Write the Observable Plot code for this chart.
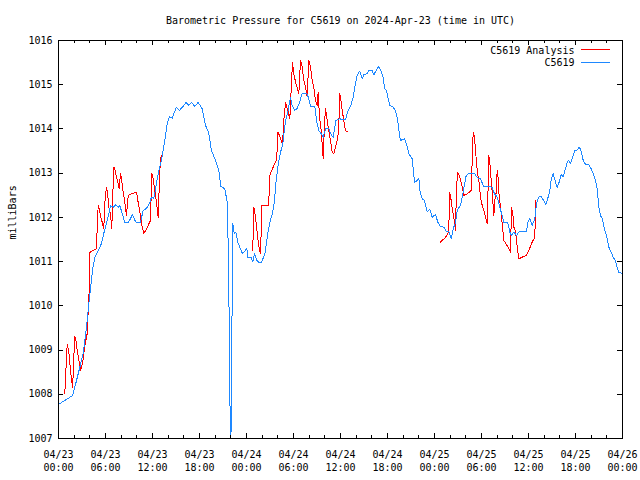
<!DOCTYPE html>
<html><head><meta charset="utf-8">
<script src="https://cdn.jsdelivr.net/npm/d3@7"></script>
<script src="https://cdn.jsdelivr.net/npm/@observablehq/plot@0.6"></script>
<style>body{margin:0;background:#fff} svg{display:block}</style>
</head><body><div id="chart"></div><script>
const chartTitle = "Barometric Pressure for C5619 on 2024-Apr-23 (time in UTC)";
const yLabel = "milliBars";
const seriesNames = ["C5619 Analysis", "C5619"];
const seriesColors = ["#ff0000", "#1e88ff"];

// x: hours since 2024-04-23 00:00 UTC
const xTickHours = [0, 6, 12, 18, 24, 30, 36, 42, 48, 54, 60, 66, 72];
const xTickDates = ["04/23","04/23","04/23","04/23","04/24","04/24","04/24","04/24","04/25","04/25","04/25","04/25","04/26"];
const xTickTimes = ["00:00","06:00","12:00","18:00","00:00","06:00","12:00","18:00","00:00","06:00","12:00","18:00","00:00"];
const xMinorHours = [2,4,8,10,14,16,20,22,26,28,32,34,38,40,44,46,50,52,56,58,62,64,68,70];
const yTicks = [1007, 1008, 1009, 1010, 1011, 1012, 1013, 1014, 1015, 1016];

// C5619 station readings [hour, mbar]
const stationReadings = [
[0,1007.77],[1.79,1007.97],[2.30,1008.31],[2.72,1008.61],[3.15,1008.92],[3.57,1009.51],[3.92,1010.12],[4.09,1010.41],
[4.34,1010.80],[4.63,1011.10],[5.07,1011.25],[5.49,1011.41],[5.78,1011.64],[6.13,1011.86],[6.47,1012.12],[6.64,1012.27],
[6.98,1012.23],[7.31,1012.29],[7.62,1012.23],[7.83,1012.27],[8.08,1012.12],[8.46,1011.89],[8.90,1011.89],[9.19,1011.97],
[9.45,1012.07],[9.74,1011.93],[9.96,1011.89],[10.47,1011.89],[10.81,1012.16],[11.23,1012.20],[11.66,1012.34],[11.87,1012.46],
[12.17,1012.43],[12.42,1012.68],[12.73,1012.99],[13.15,1013.29],[13.57,1013.74],[13.88,1014.12],[14.17,1014.28],[14.51,1014.24],
[15.03,1014.49],[15.45,1014.42],[16.00,1014.53],[16.30,1014.60],[16.63,1014.53],[16.98,1014.60],[17.40,1014.51],[17.83,1014.60],
[18.34,1014.46],[18.77,1014.08],[19.19,1013.90],[19.53,1013.51],[20.04,1013.29],[20.46,1013.06],[20.72,1012.70],[21.23,1012.65],
[21.54,1012.34],[21.61,1011.70],[21.66,1011.44],[21.79,1009.67],[21.87,1007.93],[22.00,1006.90],[22.12,1008.24],[22.17,1010.65],
[22.25,1011.86],[22.43,1011.64],[22.63,1011.67],[22.89,1011.44],[23.20,1011.30],[23.49,1011.18],[23.83,1011.24],[24.04,1011.30],
[24.17,1011.09],[24.60,1011.09],[24.80,1010.99],[25.02,1011.18],[25.31,1011.03],[25.53,1010.99],[25.95,1010.99],[26.39,1011.21],
[26.72,1011.64],[27.03,1011.93],[27.32,1012.09],[27.57,1012.38],[27.74,1012.76],[28.00,1013.14],[28.30,1013.44],[28.63,1013.66],
[28.98,1014.19],[29.27,1014.38],[29.62,1014.72],[29.83,1014.53],[30.17,1014.42],[30.47,1014.46],[30.77,1014.60],[31.11,1014.81],
[31.66,1014.81],[31.88,1014.72],[32.17,1014.51],[32.72,1014.51],[32.94,1014.19],[33.23,1013.96],[33.54,1013.89],[33.79,1013.81],
[34.09,1014.00],[34.51,1014.00],[34.85,1013.85],[35.07,1013.81],[35.40,1014.19],[35.91,1014.23],[36.26,1014.21],[36.64,1014.21],
[36.98,1014.42],[37.28,1014.51],[37.62,1014.72],[37.83,1014.94],[38.13,1015.21],[38.46,1015.31],[38.77,1015.13],[38.97,1015.23],
[39.41,1015.25],[39.61,1015.32],[40.05,1015.32],[40.25,1015.22],[40.60,1015.34],[40.89,1015.41],[41.14,1015.32],[41.45,1015.17],
[41.62,1014.91],[41.87,1014.87],[42.04,1014.72],[42.29,1014.53],[42.73,1014.49],[43.02,1014.42],[43.31,1014.19],[43.57,1013.81],
[43.66,1013.74],[44.17,1013.78],[44.43,1013.66],[44.72,1013.44],[45.15,1013.33],[45.45,1012.80],[45.79,1012.83],[46.00,1012.89],
[46.12,1012.61],[46.43,1012.42],[46.72,1012.38],[47.07,1012.12],[47.40,1012.19],[47.71,1012.00],[48.13,1012.07],[48.42,1011.89],
[48.77,1011.79],[49.19,1011.78],[49.53,1011.67],[49.83,1011.68],[50.13,1011.52],[50.39,1011.74],[50.68,1011.89],[50.90,1012.16],
[51.32,1012.27],[51.54,1012.46],[51.74,1012.65],[52.05,1012.95],[52.38,1012.99],[53.11,1012.99],[53.45,1012.90],[53.87,1012.87],
[54.29,1012.70],[54.93,1012.70],[55.37,1012.68],[55.66,1012.53],[56.01,1012.46],[56.34,1012.23],[56.64,1012.04],[56.85,1011.89],
[57.36,1011.88],[57.61,1011.67],[57.83,1011.59],[58.12,1011.67],[58.47,1011.59],[58.76,1011.67],[59.74,1011.67],[59.91,1011.89],
[60.17,1011.97],[60.47,1011.82],[60.80,1011.97],[61.02,1012.31],[61.31,1012.46],[61.62,1012.47],[61.95,1012.38],[62.21,1012.29],
[62.51,1012.46],[62.72,1012.61],[62.90,1012.87],[63.15,1012.99],[63.45,1012.80],[63.66,1012.68],[63.92,1012.80],[64.17,1012.97],
[64.43,1012.92],[64.72,1013.10],[64.94,1013.25],[65.14,1013.29],[65.36,1013.21],[65.71,1013.40],[65.87,1013.50],[66.22,1013.53],
[66.51,1013.59],[66.77,1013.47],[66.98,1013.29],[67.28,1013.20],[67.70,1013.19],[68.01,1013.10],[68.34,1012.95],[68.55,1012.83],
[68.77,1012.65],[68.98,1012.23],[69.19,1012.04],[69.41,1011.97],[69.70,1011.74],[70.05,1011.52],[70.25,1011.33],[70.56,1011.21],
[70.81,1011.10],[71.11,1011.01],[71.32,1010.87],[71.53,1010.76],[71.83,1010.74],[72,1010.74]
];

// C5619 Analysis, three separate runs [hour, mbar]
const analysisRun1 = [
[0.80,1008.01],[0.89,1008.31],[1.02,1008.84],[1.11,1009.13],[1.24,1009.03],[1.37,1008.88],[1.53,1008.54],[1.66,1008.35],
[1.79,1008.16],[1.88,1008.46],[2.00,1009.03],[2.08,1009.31],[2.21,1009.23],[2.39,1008.99],[2.64,1008.73],[2.81,1008.54],
[3.06,1008.69],[3.28,1008.99],[3.49,1009.22],[3.66,1009.37],[3.79,1009.89],[3.92,1010.35],[4.00,1011.21],[4.43,1011.25],
[4.85,1011.29],[4.94,1011.78],[5.07,1012.27],[5.20,1012.19],[5.36,1012.04],[5.58,1011.89],[5.78,1011.74],[5.96,1012.46],
[6.13,1012.68],[6.26,1012.57],[6.42,1012.23],[6.64,1012.08],[6.80,1011.74],[6.98,1012.76],[7.06,1013.14],[7.24,1013.06],
[7.40,1012.91],[7.57,1012.80],[7.75,1012.65],[7.91,1012.99],[8.08,1012.83],[8.26,1012.57],[8.46,1012.34],[8.68,1012.04],
[8.90,1012.50],[9.32,1012.53],[9.96,1012.57],[10.17,1012.34],[10.38,1012.12],[10.60,1011.86],[10.89,1011.63],[11.23,1011.74],
[11.74,1011.93],[11.91,1012.99],[12.09,1012.87],[12.29,1012.61],[12.51,1012.34],[12.73,1012.00],[12.93,1013.06],[13.11,1013.40]
];
const analysisRun2 = [
[24.80,1011.25],[24.93,1012.23],[25.06,1012.12],[25.24,1011.86],[25.40,1011.59],[25.57,1011.36],[25.75,1011.19],[25.92,1011.78],
[25.95,1012.27],[26.81,1012.27],[26.90,1012.57],[26.97,1012.95],[27.23,1013.06],[27.57,1013.21],[27.79,1013.29],[27.96,1013.60],
[28.00,1013.93],[28.21,1013.85],[28.43,1013.74],[28.60,1013.66],[28.76,1014.19],[28.98,1014.60],[29.27,1014.42],[29.53,1014.23],
[29.87,1015.51],[30.04,1015.25],[30.26,1015.06],[30.47,1014.94],[30.68,1014.79],[30.89,1015.55],[31.11,1015.40],[31.32,1015.10],
[31.53,1014.94],[31.75,1014.72],[31.95,1015.55],[32.17,1015.40],[32.39,1015.10],[32.59,1014.94],[32.81,1014.64],[33.03,1014.53],
[33.15,1014.83],[33.32,1014.27],[33.54,1013.96],[33.70,1013.55],[33.79,1013.33],[33.96,1014.12],[34.09,1014.46],[34.30,1014.19],
[34.51,1013.96],[34.72,1013.74],[34.94,1013.47],[35.14,1013.44],[35.36,1013.59],[35.58,1013.74],[35.78,1013.96],[35.87,1014.81],
[36.00,1014.72],[36.22,1014.42],[36.42,1014.19],[36.64,1013.96],[36.93,1013.93]
];
const analysisRun3 = [
[48.77,1011.44],[49.40,1011.55],[49.83,1011.67],[49.91,1012.57],[50.04,1012.50],[50.26,1012.19],[50.46,1012.00],[50.68,1011.70],
[50.81,1012.68],[50.97,1013.02],[51.23,1012.91],[51.54,1012.68],[51.74,1012.50],[52.17,1012.53],[52.69,1012.61],[52.81,1013.29],
[52.94,1013.93],[53.11,1013.81],[53.27,1013.44],[53.45,1013.06],[53.66,1012.83],[53.87,1012.46],[54.09,1012.27],[54.29,1012.16],
[54.51,1012.00],[54.73,1011.87],[54.86,1012.80],[54.93,1013.40],[55.06,1013.25],[55.24,1012.83],[55.37,1012.57],[55.57,1012.04],
[55.70,1012.38],[55.88,1012.57],[56.00,1013.06],[56.13,1012.87],[56.26,1012.46],[56.43,1012.23],[56.64,1011.86],[56.85,1011.48],
[57.28,1011.36],[57.70,1011.21],[57.83,1012.23],[58.00,1012.08],[58.12,1011.78],[58.34,1011.70],[58.56,1011.33],[58.76,1011.06],
[59.19,1011.10],[59.74,1011.14],[60.04,1011.25],[60.47,1011.44],[60.80,1011.55],[60.93,1012.38]
];

const station = stationReadings.map(([h, v]) => ({h, v}));
const analysis = [analysisRun1, analysisRun2, analysisRun3]
  .flatMap((run, i) => run.map(([h, v]) => ({h, v, run: i})));

const W = 640, H = 480, mL = 58, mR = 18, mT = 40, mB = 42;
const plotW = W - mL - mR, plotH = H - mT - mB;
const majorLen = 5, minorLen = 3, yTickLen = 5;
const crisp = {stroke: "black", shapeRendering: "crispEdges"};

const chart = Plot.plot({
  width: W, height: H,
  marginLeft: mL, marginRight: mR, marginTop: mT, marginBottom: mB,
  style: {fontFamily: "DejaVu Sans Mono", fontSize: "10px", background: "white", color: "black"},
  x: {domain: [0, 72], axis: null},
  y: {domain: [1007, 1016], axis: null},
  marks: [
    Plot.line(analysis, {x: "h", y: "v", z: "run", stroke: seriesColors[0], strokeWidth: 1, clip: true, shapeRendering: "crispEdges"}),
    Plot.line(station, {x: "h", y: "v", stroke: seriesColors[1], strokeWidth: 1, clip: true, shapeRendering: "crispEdges"}),
    Plot.frame(crisp),
    // inward ticks (gnuplot style, mirrored)
    Plot.ruleX(xTickHours, {x: d => d, insetTop: plotH - majorLen, ...crisp}),
    Plot.ruleX(xTickHours, {x: d => d, insetBottom: plotH - majorLen, ...crisp}),
    Plot.ruleX(xMinorHours, {x: d => d, insetTop: plotH - minorLen, ...crisp}),
    Plot.ruleX(xMinorHours, {x: d => d, insetBottom: plotH - minorLen, ...crisp}),
    Plot.ruleY(yTicks, {y: d => d, insetRight: plotW - yTickLen, ...crisp}),
    Plot.ruleY(yTicks, {y: d => d, insetLeft: plotW - yTickLen, ...crisp}),
    // tick labels
    Plot.text(yTicks, {y: d => d, frameAnchor: "left", dx: -6, textAnchor: "end", lineAnchor: "middle", text: d => String(d), fill: "black"}),
    Plot.text(xTickHours, {x: d => d, frameAnchor: "bottom", dy: 16, lineAnchor: "middle", text: (d, i) => xTickDates[i], fill: "black"}),
    Plot.text(xTickHours, {x: d => d, frameAnchor: "bottom", dy: 29, lineAnchor: "middle", text: (d, i) => xTickTimes[i], fill: "black"}),
    // title and y label
    Plot.text([chartTitle], {frameAnchor: "top", dy: -20, lineAnchor: "middle", text: d => d, fill: "black"}),
    Plot.text([yLabel], {frameAnchor: "left", dx: -46, rotate: -90, lineAnchor: "middle", text: d => d, fill: "black"}),
    // legend text
    Plot.text([seriesNames[0]], {frameAnchor: "top-right", dx: -48, dy: 10, textAnchor: "end", lineAnchor: "middle", text: d => d, fill: "black"}),
    Plot.text([seriesNames[1]], {frameAnchor: "top-right", dx: -48, dy: 22, textAnchor: "end", lineAnchor: "middle", text: d => d, fill: "black"})
  ]
});

// legend line samples
const svg = d3.select(chart);
const legendY = [49.5, 62.5];
seriesColors.forEach((c, i) => {
  svg.append("line")
    .attr("x1", W - mR - 41).attr("x2", W - mR - 12)
    .attr("y1", legendY[i]).attr("y2", legendY[i])
    .attr("stroke", c).attr("stroke-width", 1);
});
document.getElementById("chart").appendChild(chart);
</script></body></html>
